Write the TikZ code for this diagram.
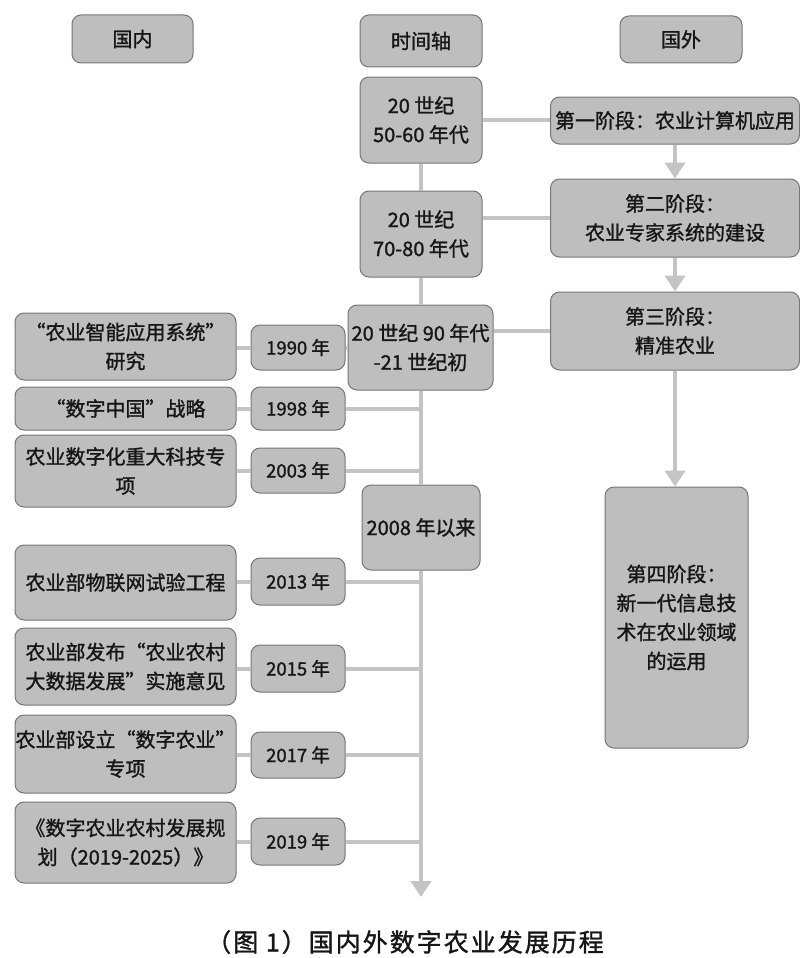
\documentclass[tikz,border=0pt]{standalone}
\usepackage{fontspec}
\setmainfont{Noto Sans CJK SC}[FakeBold=1.3]
\usetikzlibrary{arrows.meta,calc}
\definecolor{boxfill}{RGB}{190,190,190}
\definecolor{boxline}{RGB}{118,118,118}
\definecolor{connc}{RGB}{196,196,196}
\definecolor{txt}{RGB}{22,22,22}
\begin{document}
\begin{tikzpicture}[x=1pt,y=-1pt,
  box/.style={draw=boxline, fill=boxfill, line width=1pt, rounded corners=9pt, align=center, inner sep=0pt, text=txt, font=\fontsize{20}{29}\selectfont},
  yearbox/.style={box, minimum width=94pt, font=\fontsize{18.5}{24}\selectfont},
  leftbox/.style={box, minimum width=221pt},
  connl/.style={draw=connc, line width=4pt},
  arr/.style={connl, -{Triangle[width=20pt,length=16pt]}}
]
\fill[white] (0,0) rectangle (800,958);
\useasboundingbox (0,0) rectangle (800,958);

% headers
\node[box, minimum width=121pt, minimum height=48pt] (hd) at (132.5,39) {国内};
\node[box, minimum width=122pt, minimum height=52pt] (ht) at (421,41) {时间轴};
\node[box, minimum width=122pt, minimum height=47pt] (hf) at (681,39.5) {国外};

% timeline
\node[box, minimum width=122pt, minimum height=86pt] (t1) at (421,120) {20 世纪\\50-60 年代};
\node[box, minimum width=122pt, minimum height=86pt] (t2) at (421,234) {20 世纪\\70-80 年代};
\node[box, minimum width=145pt, minimum height=85pt] (t3) at (420.5,347.5) {20 世纪 90 年代\\-21 世纪初};
\node[box, minimum width=118pt, minimum height=85pt] (t4) at (421,527.5) {2008 年以来};
\coordinate (axisend) at (421,897);

% foreign
\node[box, minimum width=249pt, minimum height=47pt] (r1) at (675,120.5) {第一阶段：农业计算机应用};
\node[box, minimum width=249pt, minimum height=78pt] (r2) at (675,218) {第二阶段：\\农业专家系统的建设};
\node[box, minimum width=249pt, minimum height=78pt] (r3) at (675,331) {第三阶段：\\精准农业};
\node[box, minimum width=143pt, minimum height=261pt] (r4) at (676.5,617.5) {第四阶段：\\新一代信息技\\术在农业领域\\的运用};

% domestic
\node[leftbox, minimum height=67pt] (l1) at (125.5,346.5) {“农业智能应用系统”\\研究};
\node[leftbox, minimum height=43pt] (l2) at (125.5,408.5) {“数字中国”战略};
\node[leftbox, minimum height=72pt] (l3) at (125.5,471) {农业数字化重大科技专\\项};
\node[leftbox, minimum height=75pt] (l4) at (125.5,582.5) {农业部物联网试验工程};
\node[leftbox, minimum height=77pt] (l5) at (125.5,666.5) {农业部发布“农业农村\\大数据发展”实施意见};
\node[leftbox, minimum height=78pt] (l6) at (125.5,754) {农业部设立“数字农业”\\专项};
\node[leftbox, minimum height=81pt] (l7) at (125.5,842.5) {《数字农业农村发展规\\划（2019-2025）》};

\node[yearbox, minimum height=45pt] (y1) at (298,347.5) {1990 年};
\node[yearbox, minimum height=43pt] (y2) at (298,408.5) {1998 年};
\node[yearbox, minimum height=45pt] (y3) at (298,470.5) {2003 年};
\node[yearbox, minimum height=47pt] (y4) at (298,581.5) {2013 年};
\node[yearbox, minimum height=47pt] (y5) at (298,668.5) {2015 年};
\node[yearbox, minimum height=46pt] (y6) at (298,755) {2017 年};
\node[yearbox, minimum height=47pt] (y7) at (298,841.5) {2019 年};

% caption
\node[text=txt, font=\fontsize{25}{30}\selectfont\addfontfeature{LetterSpace=8}] (cap) at (405,942) {（图 1）国内外数字农业发展历程};

% axis
\draw[connl] (t1.south) -- (t2.north);
\draw[connl] (t2.south) -- (t2.south |- t3.north);
\draw[connl] (t2.south |- t3.south) -- (t4.north);
\draw[arr] (t4.south) -- (axisend);

% timeline to foreign
\draw[connl] (t1.east) -- (t1.east -| r1.west);
\draw[connl] (r2.west -| t2.east) -- (r2.west);
\draw[connl] (r3.west -| t3.east) -- (r3.west);

% foreign arrows
\draw[arr] (r1.south) -- (r2.north);
\draw[arr] (r2.south) -- (r3.north);
\draw[arr] (r3.south) -- (r3.south |- r4.north);

% domestic connectors
\foreach \i in {1,...,7} {
  \draw[connl] (y\i.west -| l\i.east) -- (y\i.west);
}
\draw[connl] (y1.east) -- (t3.west);
\foreach \i in {2,...,7} {
  \draw[connl] (y\i.east) -- (y\i.east -| t1.south);
}
\end{tikzpicture}
\end{document}
